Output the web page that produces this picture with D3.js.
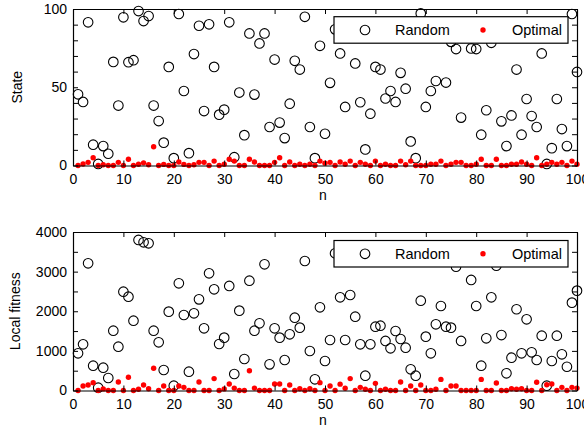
<!DOCTYPE html>
<html>
<head>
<meta charset="utf-8">
<script src="https://cdn.jsdelivr.net/npm/d3@7"></script>
<style>
  body { margin: 0; background: #fff; }
  svg { display: block; font-family: "Liberation Sans", Arial, sans-serif; }
</style>
</head>
<body>
<div id="chart"></div>
<script>
// n = 1..100
const nValues = d3.range(1, 101);

const stateRandom = [45.5, 40.6, 91.5, 13.3, 1, 12.4, 7.5, 66.2, 38.3, 94.7,
  66, 67.3, 98.7, 92.3, 95.5, 38.3, 28.4, 14.6, 63, 4.7,
  96.8, 47.6, 7.9, 71.2, 89.3, 34.8, 90.2, 63, 32.5, 35.7,
  91.5, 5.3, 46.6, 19.4, 84.4, 45.3, 78, 84.4, 24.6, 67.7,
  27.4, 17.5, 39.5, 66.9, 61.3, 95, 24.6, 4.7, 76.5, 20.3,
  52.8, 87, 71.6, 37.4, 88, 65.2, 40.4, 10.3, 33.1, 63,
  61.3, 42.8, 47.6, 40.6, 59.2, 49.1, 15.4, 4.7, 97.2, 37.4,
  47.6, 54, 85, 53, 79, 74.4, 30.6, 90, 74.8, 74.4,
  19.7, 35.3, 78.4, 83, 28.2, 12.4, 32, 61.3, 19.7, 42.5,
  31.6, 24.6, 71.6, 1, 11.1, 42.5, 23.3, 12.4, 96.8, 59.8];

const stateOptimal = [0, 1, 2, 5, 0, 0.5, 0, 0, 2, 0,
  4, 0, 0.8, 1.7, 0.5, 12, 0, 0.7, 0, 0,
  2.2, 0.7, 0, 0.5, 2, 2, 0, 2.8, 0, 0.8,
  4, 2.8, 0, 0, 4, 2.2, 0, 0, 0, 2,
  5, 0, 2.2, 0, 0.8, 0, 0.8, 0, 2.8, 1.5,
  2, 0, 2.2, 0.8, 2.8, 0, 2, 0.8, 0, 2.8,
  0, 0.8, 0, 0, 2.8, 0.5, 2.8, 0, 0, 0,
  0.8, 0.8, 2.8, 0, 0.8, 2, 2, 0, 0, 0.8,
  4, 0, 0, 4, 0, 0, 0.8, 0.8, 2.2, 0.8,
  0, 5, 0, 0.8, 2, 0.8, 2, 0, 2.8, 0.8];

const fitnessRandom = [938, 1166, 3210, 626, 71, 576, 315, 1510, 1106, 2494,
  2368, 1762, 3800, 3740, 3715, 1510, 1217, 517, 1990, 122,
  2705, 1905, 475, 1948, 2300, 1570, 2958, 2554, 1174, 1334,
  2638, 416, 2015, 795, 2772, 1510, 1695, 3185, 660, 1570,
  1334, 770, 1418, 1838, 1586, 3268, 997, 282, 2100, 745,
  1275, 3463, 2352, 1275, 2410, 1863, 1166, 374, 1166, 1611,
  1636, 1250, 1065, 1502, 1300, 1080, 535, 374, 2267, 1359,
  938, 1670, 2133, 1611, 1586, 3125, 1250, 3500, 2790, 2133,
  626, 1317, 2352, 3150, 1400, 434, 828, 2050, 938, 1797,
  963, 770, 1383, 122, 745, 1383, 913, 600, 2217, 2520];

const fitnessOptimal = [0, 114, 140, 198, 0, 40, 0, 0, 215, 0,
  333, 0, 30, 140, 45, 560, 0, 114, 0, 0,
  114, 80, 0, 0, 215, 0, 0, 300, 0, 40,
  165, 60, 0, 0, 500, 60, 0, 0, 0, 165,
  165, 0, 140, 0, 45, 0, 45, 0, 198, 0,
  114, 0, 160, 55, 300, 0, 80, 30, 0, 180,
  0, 30, 0, 0, 215, 0, 114, 0, 140, 0,
  0, 30, 280, 0, 114, 114, 0, 0, 0, 0,
  280, 0, 0, 190, 0, 0, 45, 30, 45, 0,
  0, 210, 0, 147, 165, 0, 80, 0, 80, 60];

const xTicks = d3.range(0, 101, 10);
const stateTicks = d3.range(0, 101, 10);
const stateLabels = [0, 50, 100];
const fitnessTicks = d3.range(0, 4001, 500);
const fitnessLabels = [0, 1000, 2000, 3000, 4000];
const seriesNames = ["Random", "Optimal"];

const width = 584, height = 431;
const RED = "#ff0000";

const svg = d3.select("#chart").append("svg")
  .attr("width", width).attr("height", height);

const x = d3.scaleLinear().domain([0, 100]).range([73, 577]);

function panel(opt) {
  const y = opt.y;
  const g = svg.append("g");
  const [y0, y1] = y.range();

  // points
  g.append("g").selectAll("circle").data(nValues).join("circle")
    .attr("cx", d => x(d)).attr("cy", (d, i) => y(opt.random[i]))
    .attr("r", 4.8).attr("fill", "none").attr("stroke", "#000").attr("stroke-width", 1.1);
  g.append("g").selectAll("circle").data(nValues).join("circle")
    .attr("cx", d => x(d)).attr("cy", (d, i) => y(opt.optimal[i]))
    .attr("r", 2.7).attr("fill", RED);

  const fmt = v => opt.labels.includes(v) ? String(v) : "";

  g.append("g").attr("transform", `translate(0,${y0})`)
    .call(d3.axisBottom(x).tickValues(xTicks).tickSize(-5).tickSizeOuter(0).tickPadding(9));
  g.append("g").attr("transform", `translate(0,${y1})`)
    .call(d3.axisTop(x).tickValues(xTicks).tickSize(-5).tickSizeOuter(0).tickFormat(""));
  g.append("g").attr("transform", `translate(${x.range()[0]},0)`)
    .call(d3.axisLeft(y).tickValues(opt.ticks).tickSize(-5).tickSizeOuter(0).tickPadding(6).tickFormat(fmt));
  g.append("g").attr("transform", `translate(${x.range()[1]},0)`)
    .call(d3.axisRight(y).tickValues(opt.ticks).tickSize(-5).tickSizeOuter(0).tickFormat(""));

  g.selectAll(".domain").attr("stroke", "#000").attr("stroke-width", 1.2);
  g.selectAll(".tick line").attr("stroke", "#000");
  g.selectAll(".tick text").attr("font-size", 14).attr("fill", "#000")
    .attr("font-family", "Liberation Sans, Arial, sans-serif");

  // axis titles
  g.append("text").attr("x", 323).attr("y", y0 + 34)
    .attr("text-anchor", "middle").attr("font-size", 14).text("n");
  g.append("text")
    .attr("transform", `translate(${opt.titleX},${(y0 + y1) / 2}) rotate(-90)`)
    .attr("text-anchor", "middle").attr("font-size", 14).text(opt.title);

  // legend
  const lg = g.append("g").attr("transform", `translate(334,${opt.legendTop})`);
  lg.append("rect").attr("width", 234).attr("height", 26.5)
    .attr("fill", "#fff").attr("stroke", "#000").attr("stroke-width", 1.2);
  lg.append("circle").attr("cx", 31).attr("cy", 13.3).attr("r", 4.8)
    .attr("fill", "none").attr("stroke", "#000").attr("stroke-width", 1.1);
  lg.append("text").attr("x", 61).attr("y", 18.3).attr("font-size", 14.5).text(seriesNames[0]);
  lg.append("circle").attr("cx", 149).attr("cy", 13.3).attr("r", 2.7).attr("fill", RED);
  lg.append("text").attr("x", 178).attr("y", 18.3).attr("font-size", 14.5).text(seriesNames[1]);
}

panel({
  y: d3.scaleLinear().domain([0, 100]).range([165.5, 9]),
  random: stateRandom, optimal: stateOptimal,
  ticks: stateTicks, labels: stateLabels,
  title: "State", titleX: 22, legendTop: 16.7
});

panel({
  y: d3.scaleLinear().domain([0, 4000]).range([390.5, 232]),
  random: fitnessRandom, optimal: fitnessOptimal,
  ticks: fitnessTicks, labels: fitnessLabels,
  title: "Local fitness", titleX: 20, legendTop: 240.5
});
</script>
</body>
</html>
